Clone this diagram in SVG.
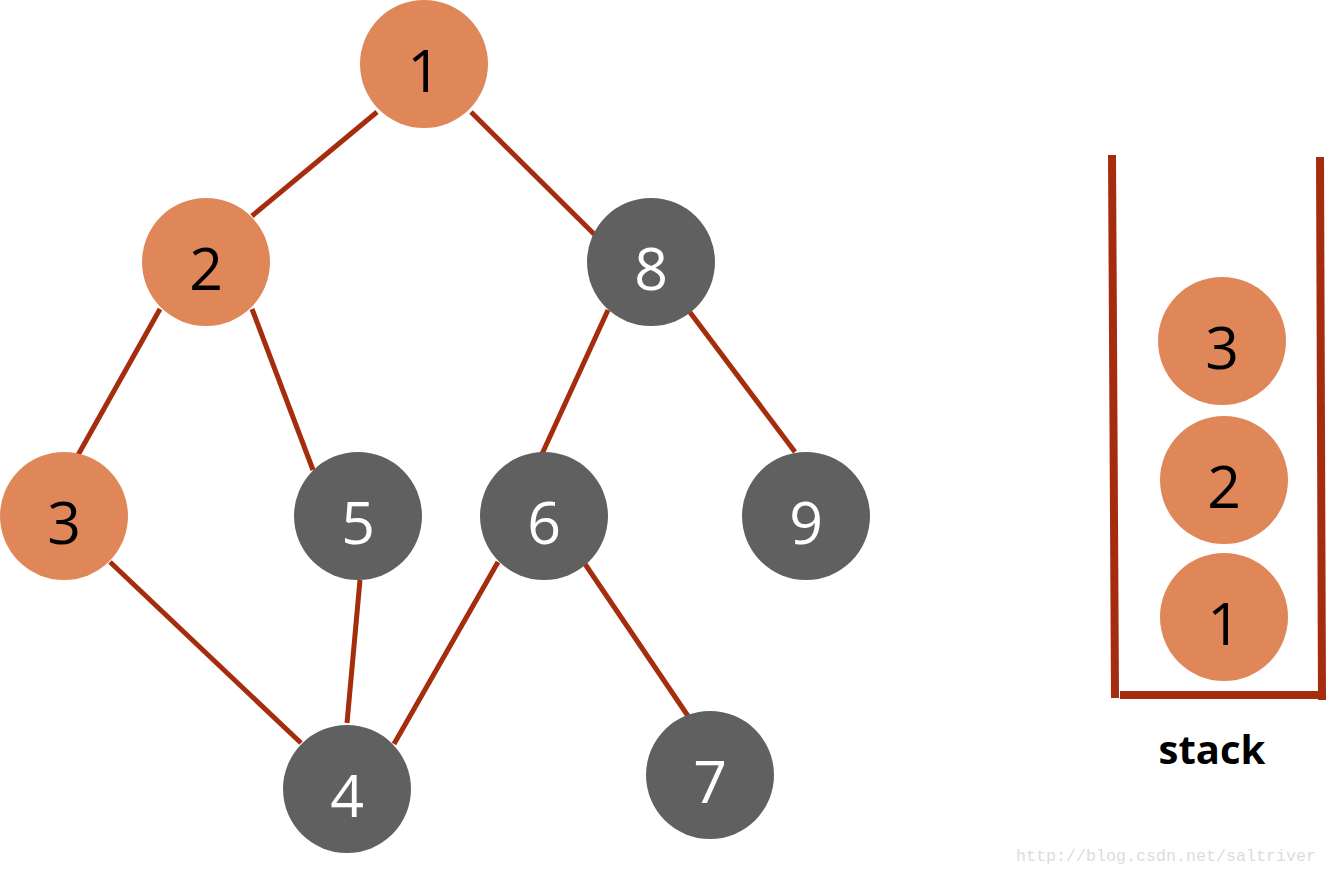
<svg xmlns="http://www.w3.org/2000/svg" width="1327" height="874" viewBox="0 0 1327 874">
<style>
.o{fill:#E0875A}
.g{fill:#606060}
.e{stroke:#A52D0E;stroke-width:5;fill:none}
.w{stroke:#A52D0E;stroke-width:8;fill:none}
.t{font-family:"Open Sans","Liberation Sans",sans-serif;font-size:59px;text-anchor:middle}
.tb{fill:#000}
.tw{fill:#fff}
</style>
<rect width="1327" height="874" fill="#fff"/>
<g id="connectors">
<line class="e" x1="377" y1="112" x2="252" y2="216"/>
<line class="e" x1="471" y1="112" x2="595" y2="235"/>
<line class="e" x1="160" y1="309" x2="78" y2="455"/>
<line class="e" x1="252" y1="309" x2="313" y2="470"/>
<line class="e" x1="608" y1="310" x2="542" y2="454"/>
<line class="e" x1="689" y1="311" x2="795" y2="452"/>
<line class="e" x1="110" y1="562" x2="301" y2="743"/>
<line class="e" x1="360" y1="580" x2="347" y2="723"/>
<line class="e" x1="498" y1="562" x2="394" y2="744"/>
<line class="e" x1="585" y1="564" x2="688" y2="716"/>
</g>
<g id="n1"><circle class="o" cx="424" cy="64" r="64"/><text class="t tb" x="424" y="92">1</text></g>
<g id="n2"><circle class="o" cx="206" cy="262" r="64"/><text class="t tb" x="206" y="290">2</text></g>
<g id="n8"><circle class="g" cx="651" cy="262" r="64"/><text class="t tw" x="651" y="290">8</text></g>
<g id="n3"><circle class="o" cx="64" cy="516" r="64"/><text class="t tb" x="64" y="544">3</text></g>
<g id="n5"><circle class="g" cx="358" cy="516" r="64"/><text class="t tw" x="358" y="544">5</text></g>
<g id="n6"><circle class="g" cx="544" cy="516" r="64"/><text class="t tw" x="544" y="544">6</text></g>
<g id="n9"><circle class="g" cx="806" cy="516" r="64"/><text class="t tw" x="806" y="544">9</text></g>
<g id="n4"><circle class="g" cx="347" cy="789" r="64"/><text class="t tw" x="347" y="817">4</text></g>
<g id="n7"><circle class="g" cx="710" cy="775" r="64"/><text class="t tw" x="710" y="803">7</text></g>
<g id="stack">
<line class="w" x1="1112" y1="155" x2="1115" y2="698"/>
<line class="w" x1="1320" y1="157" x2="1322" y2="700"/>
<line class="w" x1="1120" y1="695" x2="1322" y2="695"/>
<g id="s3"><circle class="o" cx="1222" cy="341" r="64"/><text class="t tb" x="1222" y="369">3</text></g>
<g id="s2"><circle class="o" cx="1224" cy="480" r="64"/><text class="t tb" x="1224" y="508">2</text></g>
<g id="s1"><circle class="o" cx="1224" cy="617" r="64"/><text class="t tb" x="1224" y="645">1</text></g>
<text x="1212" y="764" font-family="Open Sans,Liberation Sans,sans-serif" font-weight="bold" font-size="40" text-anchor="middle">stack</text>
</g>
<text x="1016" y="861" font-family="Liberation Mono,monospace" font-size="17" fill="#dcdcdc" textLength="300" lengthAdjust="spacingAndGlyphs">http://blog.csdn.net/saltriver</text>
</svg>
